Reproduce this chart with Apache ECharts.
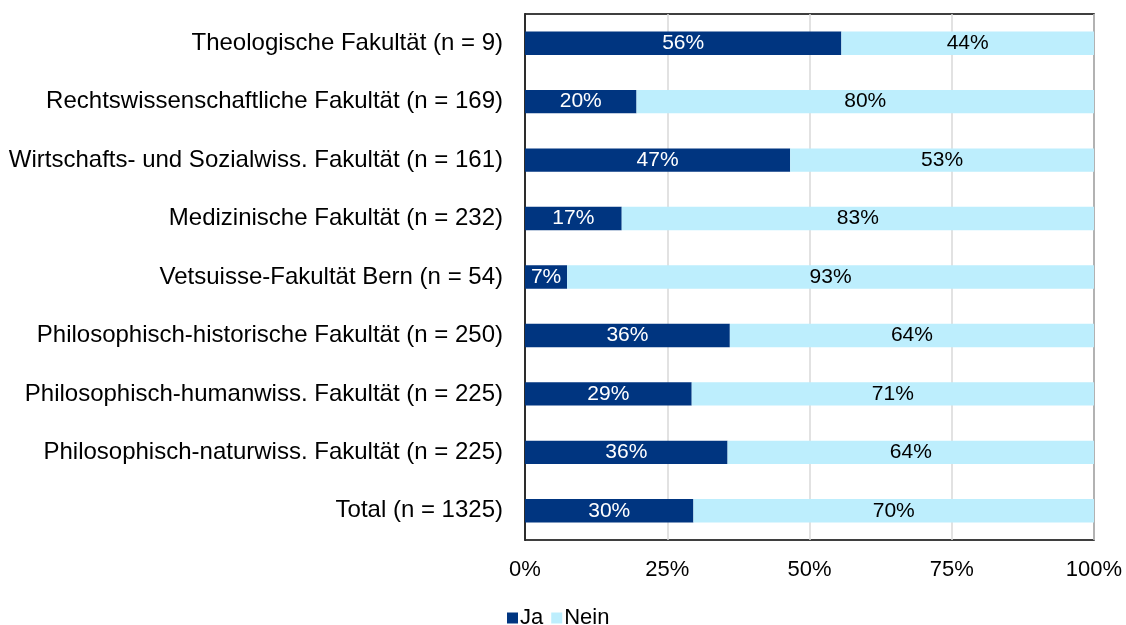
<!DOCTYPE html>
<html>
<head>
<meta charset="utf-8">
<script src="https://cdn.jsdelivr.net/npm/echarts@6/dist/echarts.min.js"></script>
<style>
  html, body { margin: 0; padding: 0; background: #fff; }
  #chart { width: 1126px; height: 625px; }
</style>
</head>
<body>
<div id="chart"></div>
<script>
const categories = [
  'Theologische Fakultät (n = 9)',
  'Rechtswissenschaftliche Fakultät (n = 169)',
  'Wirtschafts- und Sozialwiss. Fakultät (n = 161)',
  'Medizinische Fakultät (n = 232)',
  'Vetsuisse-Fakultät Bern (n = 54)',
  'Philosophisch-historische Fakultät (n = 250)',
  'Philosophisch-humanwiss. Fakultät (n = 225)',
  'Philosophisch-naturwiss. Fakultät (n = 225)',
  'Total (n = 1325)'
];
const ja = [55.6, 19.6, 46.6, 17.0, 7.4, 36.0, 29.3, 35.6, 29.6];
const nein = [44.4, 80.4, 53.4, 83.0, 92.6, 64.0, 70.7, 64.4, 70.4];
const xTicks = [0, 25, 50, 75, 100];

const font = '"Liberation Sans", Arial, sans-serif';
const chart = echarts.init(document.getElementById('chart'));
chart.setOption({
  animation: false,
  textStyle: { fontFamily: font },
  grid: {
    left: 525, right: 32, top: 14, bottom: 85,
    show: true, borderColor: '#000', borderWidth: 1.5
  },
  legend: {
    top: 602, left: 502,
    itemWidth: 11, itemHeight: 11, itemGap: 8,
    icon: 'rect',
    textStyle: { fontSize: 22, color: '#000', padding: [5, 0, 0, -3] },
    data: ['Ja', 'Nein']
  },
  xAxis: {
    type: 'value', min: 0, max: 100, interval: 25,
    axisLine: { show: false },
    axisTick: { show: false },
    splitLine: { show: true, lineStyle: { color: '#d9d9d9', width: 1.5 } },
    axisLabel: {
      fontSize: 22, color: '#000', margin: 19,
      formatter: v => (xTicks.includes(v) ? v + '%' : '')
    }
  },
  yAxis: {
    type: 'category', inverse: true, data: categories,
    axisLine: { show: true, lineStyle: { color: '#000', width: 1.5 } },
    axisTick: { show: false },
    axisLabel: { fontSize: 24, color: '#000', margin: 22 }
  },
  series: [
    { name: 'Ja', data: ja, color: '#003580', labelColor: '#fff' },
    { name: 'Nein', data: nein, color: '#bdeefd', labelColor: '#000' }
  ].map(s => ({
    name: s.name,
    type: 'bar',
    stack: 'total',
    data: s.data,
    barCategoryGap: '60%',
    itemStyle: { color: s.color },
    label: {
      show: true, position: 'inside', fontSize: 21, color: s.labelColor,
      formatter: p => Math.round(p.value) + '%'
    }
  }))
});
</script>
</body>
</html>
